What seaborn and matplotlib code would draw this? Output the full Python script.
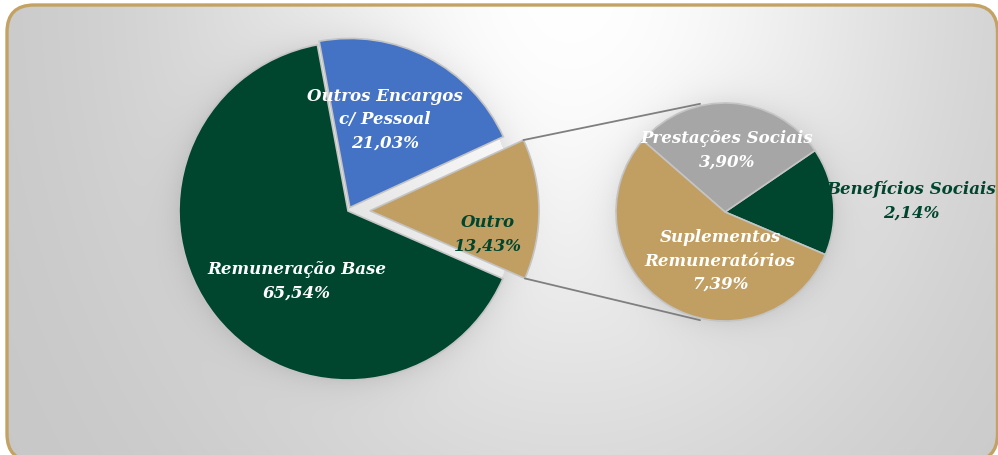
import numpy as np
import matplotlib
matplotlib.use("Agg")
import matplotlib.pyplot as plt
from matplotlib.patches import FancyBboxPatch
import seaborn as sns

# ---- data ---------------------------------------------------------------
main_labels = ["Outro", "Outros Encargos\nc/ Pessoal", "Remuneração Base"]
main_values = [13.43, 21.03, 65.54]

sub_labels = ["Benefícios Sociais", "Prestações Sociais", "Suplementos\nRemuneratórios"]
sub_values = [2.14, 3.90, 7.39]

# ---- style --------------------------------------------------------------
sns.set_style("white")
plt.rcParams["font.family"] = ["DejaVu Serif"]

GREEN = "#00462f"
BLUE = "#4472c4"
TAN = "#c19f63"
GRAY = "#a6a6a6"
main_colors = sns.color_palette([TAN, BLUE, GREEN])
sub_colors = sns.color_palette([GREEN, GRAY, TAN])

W, H = 998, 456
fig = plt.figure(figsize=(W / 100, H / 100), dpi=100, facecolor="white")
ax = fig.add_axes([0, 0, 1, 1])
ax.set_facecolor("white")

# layout (pixel units, y pointing up)
main_c = (348, 244)
main_r = 169
sub_c = (725, 243)
sub_r = 109

# ---- panel background: rounded frame with radial gradient + soft shadows --
yy, xx = np.mgrid[0:H, 0:W]
yy_up = H - yy
d = np.hypot(xx - 570, (yy + 20) / 1.3)
val = 0.775 + 0.225 * np.exp(-(d / 370) ** 2)
for (cx, cy), r in ((main_c, main_r), (sub_c, sub_r)):
    dd = np.hypot(xx - cx, yy_up - cy) - r
    val -= 0.07 * np.exp(-np.clip(dd, 0, None) / 14.0) * (dd > -2)
val = np.clip(val, 0, 1)
bg = np.dstack([val, val, val])

frame = FancyBboxPatch((7, -6), 990.5, 456, boxstyle="round,pad=0,rounding_size=27",
                       facecolor="none", edgecolor="#c3a263", linewidth=2.4, zorder=3,
                       clip_on=False)
ax.add_patch(frame)
img = ax.imshow(bg, extent=[0, W, 0, H], origin="upper", zorder=0, interpolation="bilinear")
img.set_clip_path(frame)

# ---- main pie -----------------------------------------------------------
wedge_kw = dict(edgecolor="#c4c4c4", linewidth=1.2)
main_wedges, _ = ax.pie(main_values, colors=main_colors, startangle=-23.6,
                        counterclock=True, radius=main_r, center=main_c,
                        explode=[22, 4, 0], wedgeprops=wedge_kw, frame=True)

# ---- secondary pie ------------------------------------------------------
sub_wedges, _ = ax.pie(sub_values, colors=sub_colors, startangle=-23.0,
                       counterclock=True, radius=sub_r, center=sub_c,
                       wedgeprops=wedge_kw, frame=True)

# ---- connector lines from the "Outro" wedge to the secondary pie ---------
ow = main_wedges[0]
ocx, ocy = ow.center
for ang_main, ang_sub in ((ow.theta2, 103.0), (ow.theta1, 257.0)):
    x0 = ocx + ow.r * np.cos(np.radians(ang_main))
    y0 = ocy + ow.r * np.sin(np.radians(ang_main))
    x1 = sub_c[0] + (sub_r + 2) * np.cos(np.radians(ang_sub))
    y1 = sub_c[1] + (sub_r + 2) * np.sin(np.radians(ang_sub))
    ax.plot([x0, x1], [y0, y1], color="#7f7f7f", linewidth=1.3, zorder=1)

# ---- labels -------------------------------------------------------------
def pct(v):
    return f"{v:.2f}".replace(".", ",") + "%"

txt_kw = dict(fontsize=12, fontweight="bold", fontstyle="italic",
              ha="center", va="center", linespacing=1.5, zorder=5)

main_pos = [(488, 222), (385, 336), (297, 175)]
main_txtcol = [GREEN, "white", "white"]
for lab, v, (px, py), c in zip(main_labels, main_values, main_pos, main_txtcol):
    ax.text(px, py, f"{lab}\n{pct(v)}", color=c, **txt_kw)

sub_pos = [(911, 255), (727, 306), (720, 195)]
sub_txtcol = [GREEN, "white", "white"]
for lab, v, (px, py), c in zip(sub_labels, sub_values, sub_pos, sub_txtcol):
    ax.text(px, py, f"{lab}\n{pct(v)}", color=c, **txt_kw)

ax.set_xlim(0, W)
ax.set_ylim(0, H)
ax.set_aspect("equal")
ax.axis("off")

fig.savefig("out.png", dpi=100, facecolor="white")
